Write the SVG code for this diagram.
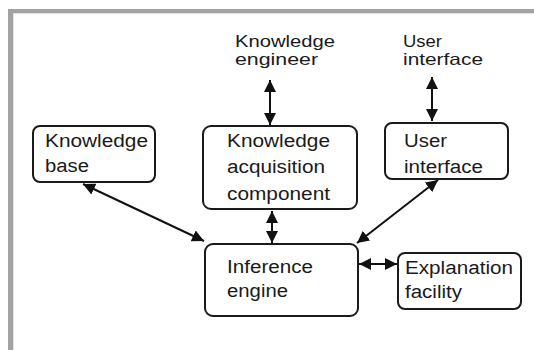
<svg xmlns="http://www.w3.org/2000/svg" width="534" height="350" viewBox="0 0 534 350">
<defs>
<style>
.box{fill:#fff;stroke:#1a1a1a;stroke-width:2}
.t{font-family:"Liberation Sans",Arial,sans-serif;font-size:18px;fill:#1a1a1a}
.s{font-size:16.5px}
.c{stroke:#111;stroke-width:2;fill:none;marker-start:url(#ah);marker-end:url(#ah)}
</style>
<marker id="ah" viewBox="0 0 10 10" refX="10" refY="5" markerWidth="12" markerHeight="12" markerUnits="userSpaceOnUse" orient="auto-start-reverse">
<path d="M0,0 L10,5 L0,10 Z" fill="#111"/>
</marker>
</defs>
<rect width="534" height="350" fill="#fff"/>
<g id="frame">
<rect x="8" y="9" width="526" height="4" fill="#a3a3a3"/>
<rect x="8" y="9" width="5" height="341" fill="#a3a3a3"/>
<rect x="13" y="13" width="521" height="1" fill="#e2e2e2"/>
<rect x="13" y="13" width="1" height="337" fill="#e2e2e2"/>
</g>
<g id="connectors">
<line class="c" x1="270" y1="80" x2="270" y2="125"/>
<line class="c" x1="432" y1="77" x2="432" y2="121"/>
<line class="c" x1="272" y1="211" x2="272" y2="243"/>
<line class="c" x1="83" y1="184" x2="204" y2="241"/>
<line class="c" x1="438" y1="180" x2="357" y2="243"/>
<line class="c" x1="359" y1="264" x2="397" y2="264"/>
</g>
<g id="label-knowledge-engineer">
<text class="t s" x="235" y="47" textLength="100" lengthAdjust="spacingAndGlyphs">Knowledge</text>
<text class="t s" x="235" y="64.5" textLength="83" lengthAdjust="spacingAndGlyphs">engineer</text>
</g>
<g id="label-user-interface">
<text class="t s" x="403" y="47" textLength="39" lengthAdjust="spacingAndGlyphs">User</text>
<text class="t s" x="403" y="64.5" textLength="80" lengthAdjust="spacingAndGlyphs">interface</text>
</g>
<g id="knowledge-base">
<rect class="box" x="33" y="126" width="122" height="56" rx="7"/>
<text class="t" x="45" y="147" textLength="103" lengthAdjust="spacingAndGlyphs">Knowledge</text>
<text class="t" x="45" y="172" textLength="44" lengthAdjust="spacingAndGlyphs">base</text>
</g>
<g id="knowledge-acquisition">
<rect class="box" x="203" y="126" width="154" height="83" rx="8"/>
<text class="t" x="227" y="147" textLength="103" lengthAdjust="spacingAndGlyphs">Knowledge</text>
<text class="t" x="227" y="173" textLength="98" lengthAdjust="spacingAndGlyphs">acquisition</text>
<text class="t" x="227" y="200" textLength="103" lengthAdjust="spacingAndGlyphs">component</text>
</g>
<g id="user-interface">
<rect class="box" x="385" y="123" width="123" height="56" rx="7"/>
<text class="t" x="404" y="147" textLength="43" lengthAdjust="spacingAndGlyphs">User</text>
<text class="t" x="404" y="173" textLength="79" lengthAdjust="spacingAndGlyphs">interface</text>
</g>
<g id="inference-engine">
<rect class="box" x="205" y="244" width="153" height="72" rx="8"/>
<text class="t" x="227" y="273" textLength="86" lengthAdjust="spacingAndGlyphs">Inference</text>
<text class="t" x="227" y="297" textLength="61" lengthAdjust="spacingAndGlyphs">engine</text>
</g>
<g id="explanation-facility">
<rect class="box" x="398" y="253" width="123" height="56" rx="7"/>
<text class="t" x="405" y="274" textLength="108" lengthAdjust="spacingAndGlyphs">Explanation</text>
<text class="t" x="405" y="298" textLength="57" lengthAdjust="spacingAndGlyphs">facility</text>
</g>
</svg>
